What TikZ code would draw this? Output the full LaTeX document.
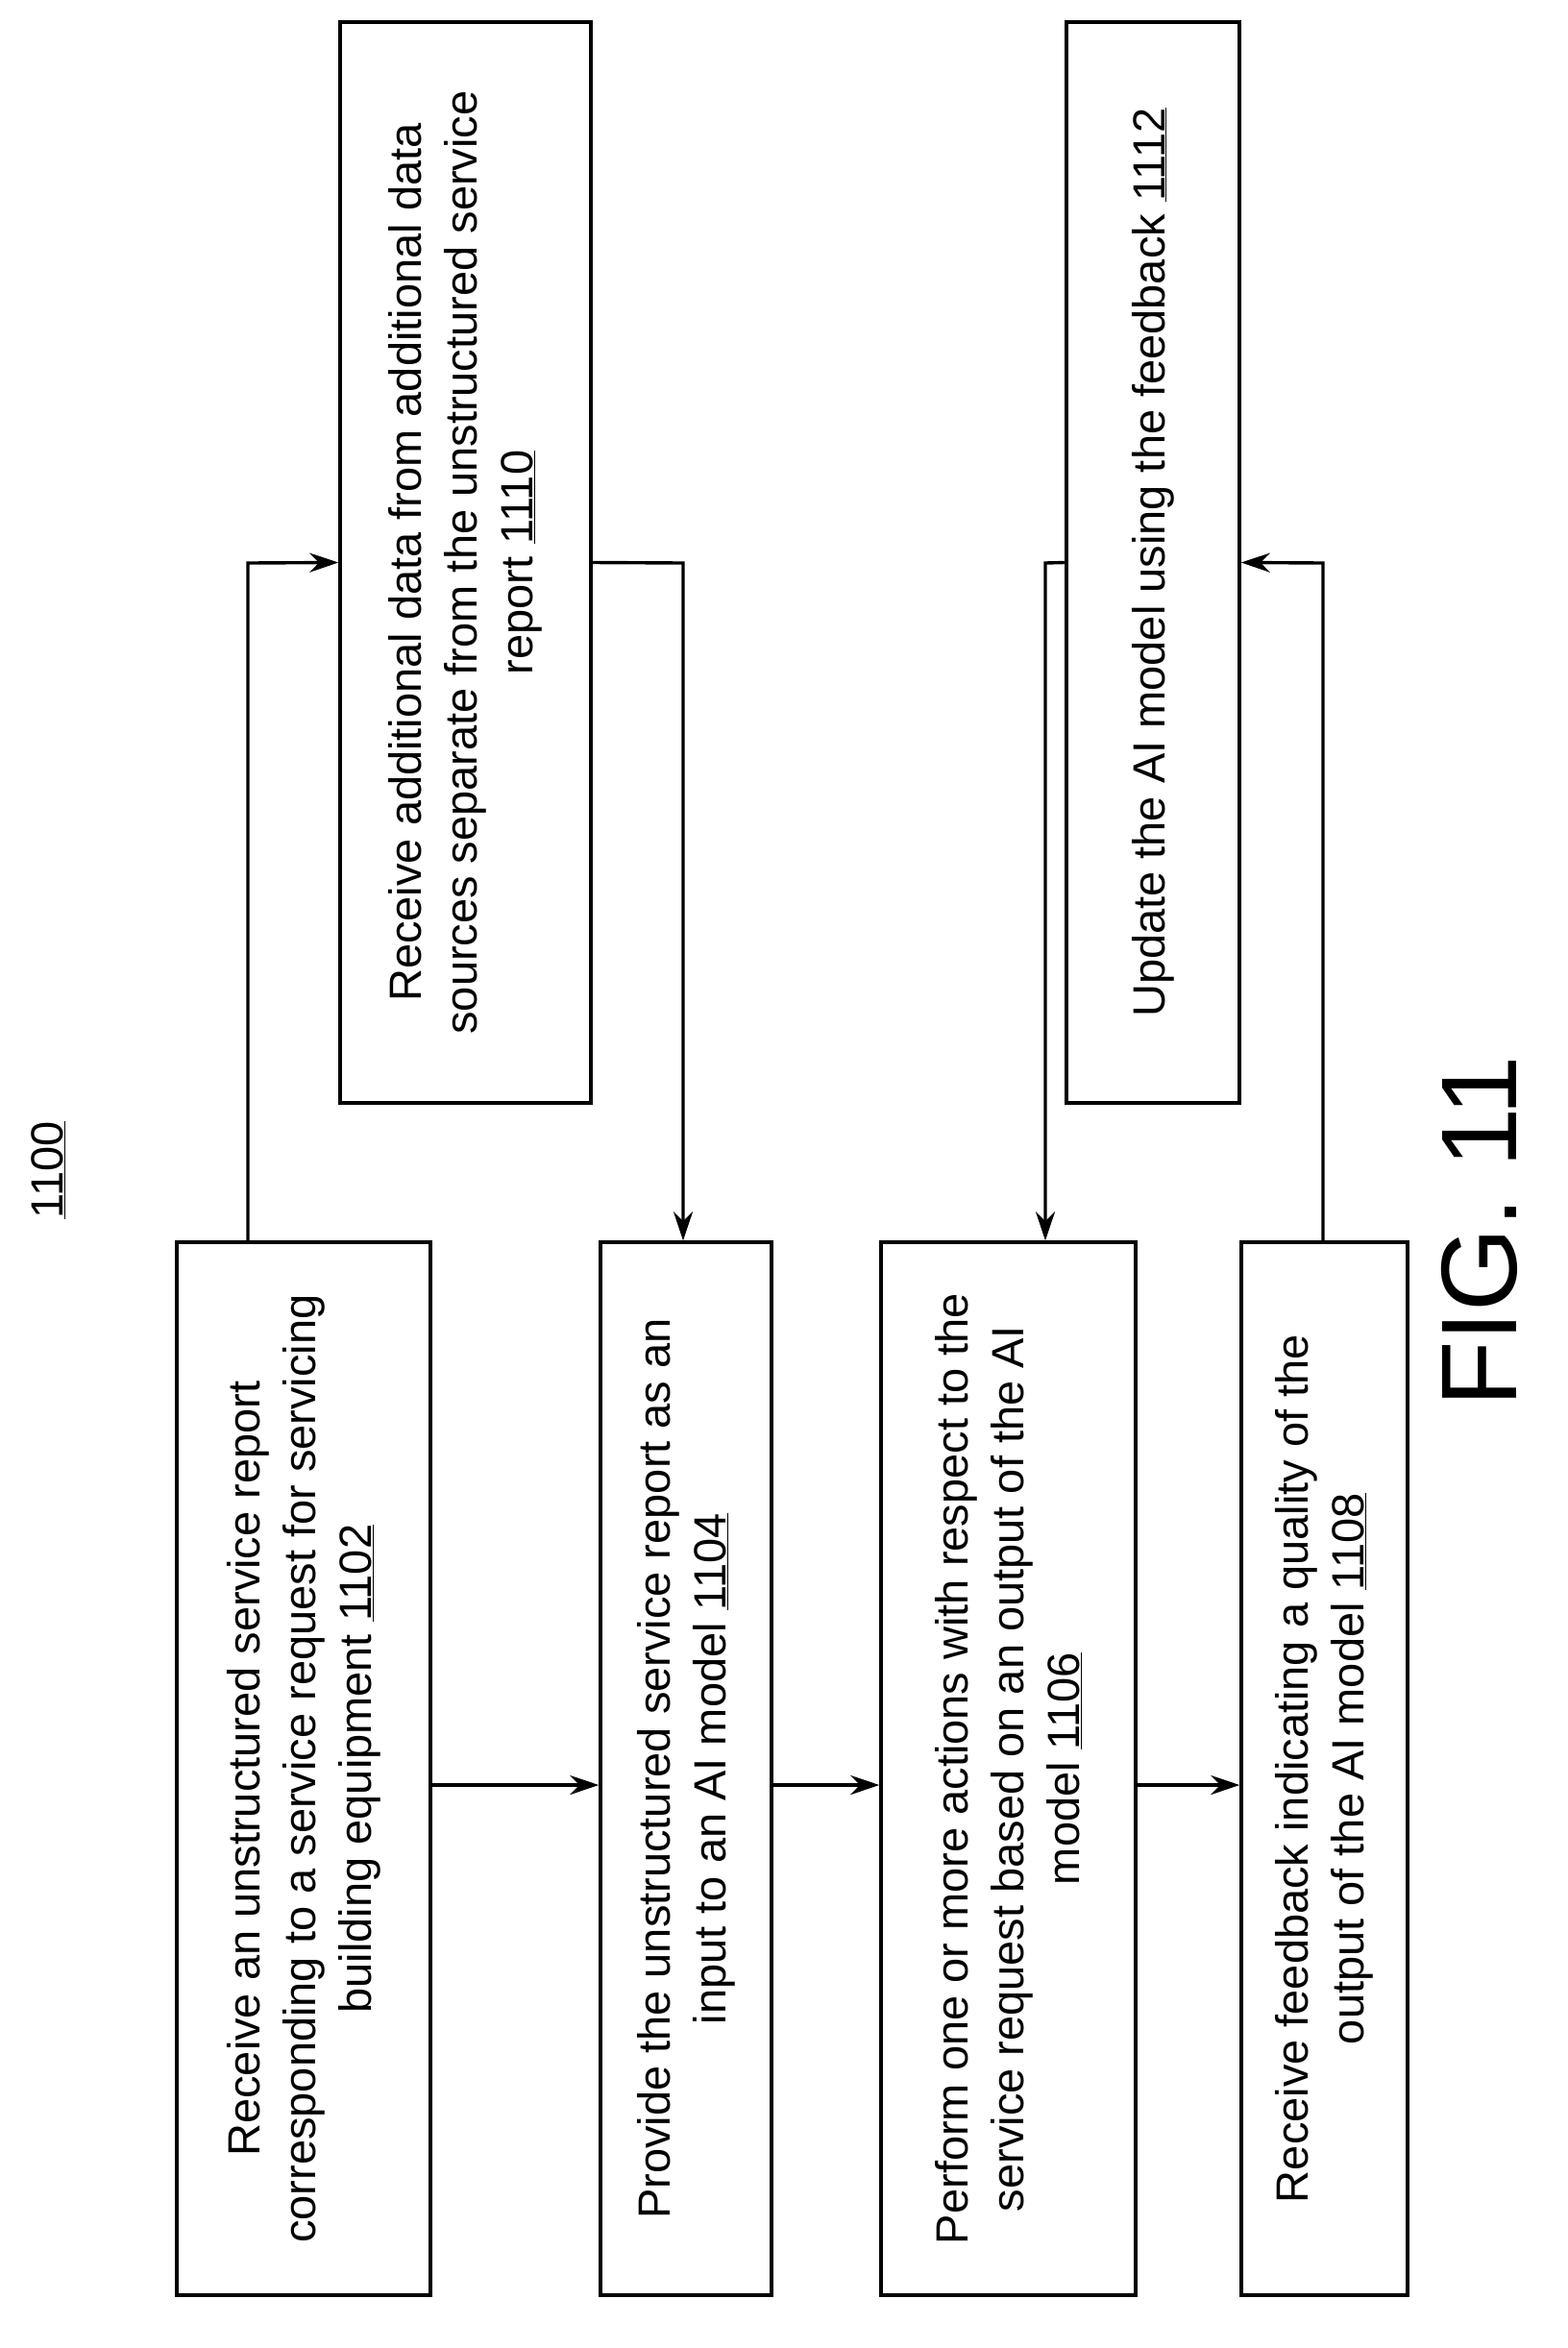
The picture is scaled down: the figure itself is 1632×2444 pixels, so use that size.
\documentclass[tikz,border=0pt]{standalone}
\usepackage{fontspec}
\setmainfont{Liberation Sans}
\usetikzlibrary{arrows.meta}
\begin{document}
\begin{tikzpicture}[x=1pt,y=-1pt,
  box/.style={draw,line width=3.4pt,inner sep=0pt},
  txt/.style={rotate=90,align=center,font=\fontsize{47}{58}\selectfont,inner sep=0pt},
  conn/.style={line width=3.4pt,-{Stealth[length=30pt,width=20pt]}},
  line/.style={line width=3.4pt}]
\useasboundingbox (0,0) rectangle (1632,2444);
\node[box,minimum width=264pt,minimum height=1096pt] (b1) at (316,1841) {};
\node[box,minimum width=178pt,minimum height=1096pt] (b2) at (714,1841) {};
\node[box,minimum width=265pt,minimum height=1096pt] (b3) at (1049.5,1841) {};
\node[box,minimum width=173pt,minimum height=1096pt] (b4) at (1378.5,1841) {};
\node[box,minimum width=261pt,minimum height=1125pt] (b5) at (484.5,585.5) {};
\node[box,minimum width=180pt,minimum height=1125pt] (b6) at (1200,585.5) {};
\node[txt] (t1) at (b1) {Receive an unstructured service report\\corresponding to a service request for servicing\\building equipment \underline{1102}};
\node[txt] (t2) at (b2) {Provide the unstructured service report as an\\input to an AI model \underline{1104}};
\node[txt] (t3) at (b3) {Perform one or more actions with respect to the\\service request based on an output of the AI\\model \underline{1106}};
\node[txt] (t4) at (b4) {Receive feedback indicating a quality of the\\output of the AI model \underline{1108}};
\node[txt] (t5) at (b5) {Receive additional data from additional data\\sources separate from the unstructured service\\report \underline{1110}};
\node[txt] (t6) at (b6) {Update the AI model using the feedback \underline{1112}};
\node[txt] (lbl) at (50,1218) {\underline{1100}};
\node[rotate=90,font=\fontsize{112}{112}\selectfont,inner sep=0pt] (fig) at (1540,1282) {FIG. 11};
\coordinate (row) at (0,1858);
\coordinate (c1) at (258,586);
\coordinate (c2) at (711,586);
\coordinate (c3) at (1088,586);
\coordinate (c4) at (1377,586);
\draw[conn] (b1.east |- row) -- (b2.west |- row);
\draw[conn] (b2.east |- row) -- (b3.west |- row);
\draw[conn] (b3.east |- row) -- (b4.west |- row);
\draw[conn] (c1 |- b1.north) -- (c1) -- (b5.west);
\draw[conn] (b5.east) -- (c2) -- (c2 |- b2.north);
\draw[conn] (b6.west) -- (c3) -- (c3 |- b3.north);
\draw[conn] (c4 |- b4.north) -- (c4) -- (b6.east);
\end{tikzpicture}
\end{document}
